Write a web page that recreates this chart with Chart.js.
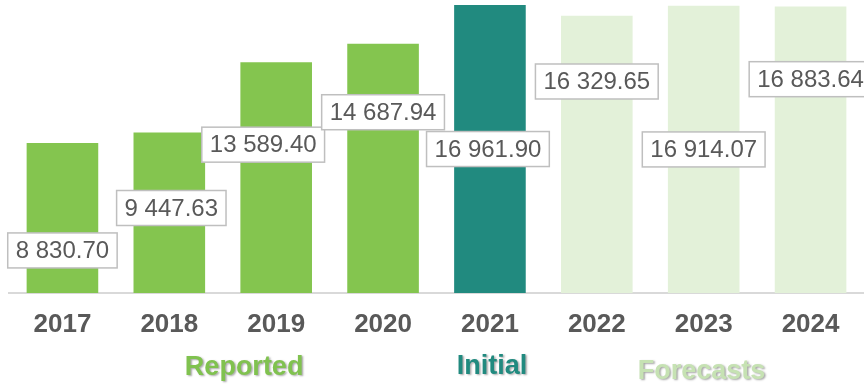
<!DOCTYPE html>
<html>
<head>
<meta charset="utf-8">
<script src="https://cdn.jsdelivr.net/npm/chart.js@4.4.1/dist/chart.umd.min.js"></script>
<style>
  html, body { margin: 0; padding: 0; background: #fff; }
  #wrap { position: relative; width: 864px; height: 385px; }
</style>
</head>
<body>
<div id="wrap"><canvas id="c"></canvas></div>
<script>
// ── Data ──
const years  = ['2017', '2018', '2019', '2020', '2021', '2022', '2023', '2024'];
const values = [8830.70, 9447.63, 13589.40, 14687.94, 16961.90, 16329.65, 16914.07, 16883.64];
const phase  = ['reported', 'reported', 'reported', 'reported', 'initial', 'forecast', 'forecast', 'forecast'];
const groups = ['Reported', 'Initial', 'Forecasts'];

// ── Styling ──
const phaseColor = { reported: '#84c54f', initial: '#218a7f', forecast: '#e3f1d9' };
const groupColor = ['#80c24f', '#218a7f', '#c6e2b3'];
// where each value box sits, as a share of its bar height, plus a small sideways nudge
const boxAt = [0.284, 0.53, 0.643, 0.725, 0.5, 0.763, 0.5, 0.746];
const boxDx = [0, 2, -13, 0, -2, 0, 0, 0];
// group captions: category index for x, baseline y
const groupAt = [{ i: 1.70, y: 374.5 }, { i: 4.02, y: 373.5 }, { i: 5.98, y: 378.5 }];
const FONT = 'Arial, "Liberation Sans", sans-serif';

const fmt = v => {
  const [a, b] = v.toFixed(2).split('.');
  return a.replace(/\B(?=(\d{3})+(?!\d))/g, ' ') + '.' + b;
};

// ── Value boxes + group captions ──
const overlay = {
  id: 'overlay',
  afterDatasetsDraw(chart) {
    const { ctx, scales: { x, y } } = chart;
    const base = y.getPixelForValue(0);
    ctx.save();
    ctx.font = '24px ' + FONT;
    ctx.textAlign = 'center';
    ctx.textBaseline = 'middle';
    values.forEach((v, i) => {
      const cx = x.getPixelForValue(i) + boxDx[i];
      const cy = base - (base - y.getPixelForValue(v)) * boxAt[i];
      const txt = fmt(v);
      const w = ctx.measureText(txt).width + 16, h = 35;
      ctx.fillStyle = '#fff';
      ctx.fillRect(cx - w / 2, cy - h / 2, w, h);
      ctx.strokeStyle = '#bfbfbf';
      ctx.lineWidth = 1.5;
      ctx.strokeRect(cx - w / 2, cy - h / 2, w, h);
      ctx.fillStyle = '#595959';
      ctx.fillText(txt, cx, cy + 1);
    });

    ctx.font = 'bold 27px ' + FONT;
    ctx.textBaseline = 'alphabetic';
    ctx.shadowColor = 'rgba(0,0,0,0.35)';
    ctx.shadowOffsetX = 1.5;
    ctx.shadowOffsetY = 1.5;
    ctx.shadowBlur = 2;
    groups.forEach((g, k) => {
      ctx.fillStyle = groupColor[k];
      ctx.fillText(g, x.getPixelForValue(groupAt[k].i), groupAt[k].y);
    });
    ctx.restore();
  }
};

new Chart(document.getElementById('c').getContext('2d'), {
  type: 'bar',
  data: {
    labels: years,
    datasets: [{
      data: values,
      backgroundColor: phase.map(p => phaseColor[p]),
      borderWidth: 0,
      barPercentage: 0.67,
      categoryPercentage: 1
    }]
  },
  options: {
    responsive: true, maintainAspectRatio: false, animation: false,
    layout: { padding: { left: 9, right: 0, top: 0, bottom: 0 } },
    plugins: { legend: { display: false }, tooltip: { enabled: false } },
    scales: {
      x: {
        grid: { display: false, drawTicks: false },
        border: { display: true, color: '#d9d9d9', width: 2 },
        ticks: { color: '#595959', font: { family: FONT, size: 26, weight: 'bold' }, padding: 16, maxRotation: 0 },
        afterFit: s => { s.height = 92; }
      },
      y: { display: false, min: 0, max: 17260 }
    }
  },
  plugins: [overlay]
});
</script>
</body>
</html>
